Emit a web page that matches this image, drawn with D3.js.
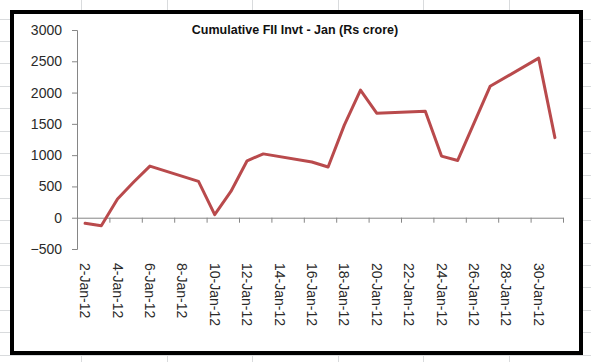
<!DOCTYPE html>
<html>
<head>
<meta charset="utf-8">
<script src="https://cdn.jsdelivr.net/npm/d3@7"></script>
<style>
  html, body { margin: 0; padding: 0; background: #fff; }
  svg { display: block; }
</style>
</head>
<body>
<svg id="chart" width="591" height="362"></svg>
<script>
const title = "Cumulative FII Invt - Jan (Rs crore)";
const dates = ["2012-01-02","2012-01-03","2012-01-04","2012-01-05","2012-01-06","2012-01-09","2012-01-10","2012-01-11","2012-01-12","2012-01-13","2012-01-16","2012-01-17","2012-01-18","2012-01-19","2012-01-20","2012-01-23","2012-01-24","2012-01-25","2012-01-27","2012-01-30","2012-01-31"];
const values = [-90,-130,300,570,825,580,50,420,910,1020,890,810,1480,2040,1670,1700,985,915,2100,2550,1280];
const xLabels = ["2-Jan-12","4-Jan-12","6-Jan-12","8-Jan-12","10-Jan-12","12-Jan-12","14-Jan-12","16-Jan-12","18-Jan-12","20-Jan-12","22-Jan-12","24-Jan-12","26-Jan-12","28-Jan-12","30-Jan-12"];
const yTicks = [-500,0,500,1000,1500,2000,2500,3000];

const svg = d3.select("#chart");
const W = 591, H = 362;

// spreadsheet background grid
const grid = svg.append("g").attr("stroke", "#d9dbdd").attr("stroke-width", 1);
d3.range(81, W, 85.5).forEach(x => grid.append("line").attr("x1", Math.round(x)+0.5).attr("x2", Math.round(x)+0.5).attr("y1", 0).attr("y2", H));
d3.range(18.6, H, 22.4).forEach(y => grid.append("line").attr("x1", 0).attr("x2", W).attr("y1", Math.round(y)+0.5).attr("y2", Math.round(y)+0.5));

// chart frame
svg.append("rect").attr("x", 12).attr("y", 12).attr("width", 569).attr("height", 341)
  .attr("fill", "#fff").attr("stroke", "#000").attr("stroke-width", 4);

const parse = d3.timeParse("%Y-%m-%d");
const labelParse = d3.timeParse("%-d-%b-%y");
const data = dates.map((d, i) => ({ date: parse(d), value: values[i] }));
const start = parse("2012-01-02");
const end = parse("2012-02-01");

const x = d3.scaleTime().domain([start, end]).range([77, 563]);
const y = d3.scaleLinear().domain([-500, 3000]).range([249, 30]);
const mid = d => d3.timeHour.offset(d, 12);

// title
svg.append("text").attr("x", 295).attr("y", 34).attr("text-anchor", "middle")
  .attr("font-family", "Liberation Sans, Arial, sans-serif").attr("font-weight", "bold")
  .attr("font-size", "12.5px").attr("fill", "#111").text(title);

// y axis
const yAxis = svg.append("g").attr("transform", "translate(77,0)")
  .call(d3.axisLeft(y).tickValues(yTicks).tickSize(5).tickPadding(10).tickFormat(d3.format("d")));
yAxis.select(".domain").attr("stroke", "#868686");
yAxis.selectAll(".tick line").attr("stroke", "#868686");
yAxis.selectAll("text").attr("font-family", "Liberation Sans, Arial, sans-serif")
  .attr("font-size", "14px").attr("fill", "#2a2a2a");

// x axis (ticks at 2-day boundaries)
const labelDates = xLabels.map(labelParse);
const tickDates = labelDates.concat([end]);
const xAxis = svg.append("g").attr("transform", `translate(0,${y(0)})`)
  .call(d3.axisBottom(x).tickValues(tickDates).tickSize(5).tickSizeOuter(0).tickFormat(""));
xAxis.select(".domain").attr("stroke", "#868686");
xAxis.selectAll(".tick line").attr("stroke", "#868686");

// x labels, rotated
svg.append("g").selectAll("text").data(labelDates).join("text")
  .attr("transform", d => `translate(${x(mid(d))},263) rotate(90)`)
  .attr("dy", "0.35em").attr("text-anchor", "start")
  .attr("font-family", "Liberation Sans, Arial, sans-serif").attr("font-size", "14px")
  .attr("fill", "#2a2a2a")
  .text((d, i) => xLabels[i]);

// line
const line = d3.line().x(d => x(mid(d.date))).y(d => y(d.value));
svg.append("path").datum(data).attr("d", line)
  .attr("fill", "none").attr("stroke", "#b94a4c").attr("stroke-width", 3)
  .attr("stroke-linejoin", "round").attr("stroke-linecap", "round");
</script>
</body>
</html>
